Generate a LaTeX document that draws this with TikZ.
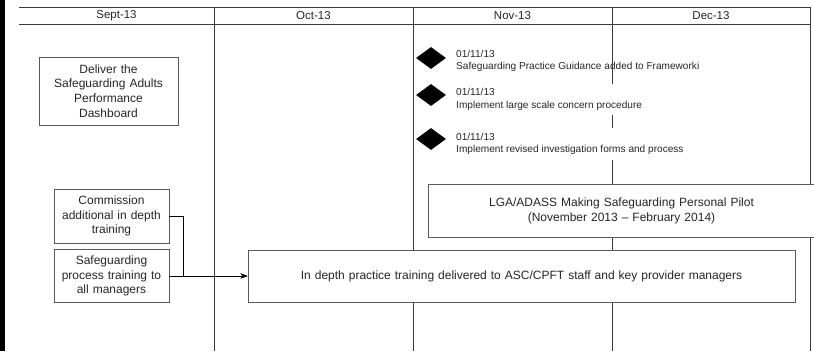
\documentclass[tikz,border=0pt]{standalone}
\usepackage{fontspec}
\setmainfont{Liberation Sans}
\usetikzlibrary{shapes.geometric,arrows.meta}
\definecolor{lineg}{HTML}{3A3A3A}
\definecolor{boxg}{HTML}{5A5A5A}
\definecolor{txt}{HTML}{262626}
\tikzset{
  grid/.style={draw=lineg, line width=0.9pt},
  taskbox/.style={draw=boxg, line width=0.9pt, fill=white, text=txt, align=center, inner sep=2pt, font=\fontsize{12}{14.8}\selectfont},
  hdr/.style={text=txt, font=\fontsize{11.5}{13}\selectfont},
  mile/.style={diamond, fill=black, draw=none, minimum width=30pt, minimum height=22pt, inner sep=0pt},
  milelbl/.style={text=txt, align=left, anchor=west, font=\fontsize{10.1}{12.4}\selectfont, inner xsep=1pt, inner ysep=5pt},
  conn/.style={draw=black, line width=0.9pt, -{Stealth[length=7pt,width=5pt]}}
}
\begin{document}
\begin{tikzpicture}[x=1pt,y=-1pt]
\useasboundingbox (0,0) rectangle (814,351);
\fill[black] (0,0) rectangle (5,351);
% header and column lines
\draw[grid] (19,7) -- (810,7);
\draw[grid] (19,24) -- (810,24);
\draw[grid] (214,7) -- (214,351);
\draw[grid] (413,7) -- (413,351);
\draw[grid] (612,7) -- (612,351);
\draw[grid] (810,7) -- (810,351);
\node[hdr] (hsep) at (116.5,15.5) {Sept-13};
\node[hdr] (hoct) at (313.5,15.5) {Oct-13};
\node[hdr] (hnov) at (512.5,15.5) {Nov-13};
\node[hdr] (hdec) at (711,15.5) {Dec-13};
% milestones
\node[milelbl] (l1) at (455,61) {01/11/13\\Safeguarding Practice Guidance added to Frameworki};
\node[milelbl, fill=white] (l2) at (455,99.5) {01/11/13\\Implement large scale concern procedure};
\node[milelbl, fill=white] (l3) at (455,144) {01/11/13\\Implement revised investigation forms and process};
\node[mile] (m1) at (431,58) {};
\node[mile] (m2) at (431,95) {};
\node[mile] (m3) at (431,139) {};
% boxes
\node[taskbox, minimum width=139pt, minimum height=68pt, text width=133pt] (dash) at (108.5,91) {Deliver the\\Safeguarding Adults\\Performance\\Dashboard};
\node[taskbox, minimum width=115pt, minimum height=54pt, text width=111pt] (comm) at (111.5,216) {Commission\\additional in depth\\training};
\node[taskbox, minimum width=115pt, minimum height=53pt, text width=111pt] (proc) at (111.5,276) {Safeguarding\\process training to\\all managers};
\node[taskbox, minimum width=387pt, minimum height=53pt, text width=380pt] (lga) at (621.5,210.5) {LGA/ADASS Making Safeguarding Personal Pilot\\(November 2013 – February 2014)};
\node[taskbox, minimum width=547pt, minimum height=52pt, text width=540pt] (ind) at (521.5,276) {In depth practice training delivered to ASC/CPFT staff and key provider managers};
% connectors
\draw[conn] (comm.east) -- ++(14,0) |- (ind.west);
\draw[conn] (proc.east) -- (ind.west);
\end{tikzpicture}
\end{document}
